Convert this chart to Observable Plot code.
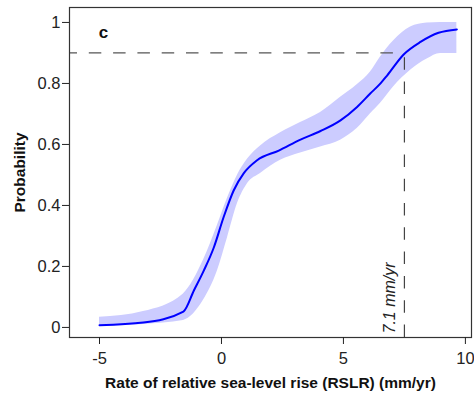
<!DOCTYPE html>
<html>
<head>
<meta charset="utf-8">
<script src="https://cdn.jsdelivr.net/npm/d3@7"></script>
<script src="https://cdn.jsdelivr.net/npm/@observablehq/plot@0.6"></script>
<style>
  html, body { margin: 0; padding: 0; background: #fff; }
  #chart { width: 474px; height: 393px; }
</style>
</head>
<body>
<div id="chart"></div>
<script>
// ---- data ----
const lineX = [-5, -3.2, -1.56, -1.13, -0.72, -0.31, 0.09, 0.5, 0.91, 1.46, 2.35, 3.24, 4.06, 4.88, 5.56, 6.1, 6.52, 6.79, 7.47, 8.16, 8.9, 9.65];
const lineP = [0.007, 0.016, 0.052, 0.121, 0.187, 0.263, 0.362, 0.449, 0.505, 0.548, 0.580, 0.616, 0.644, 0.679, 0.723, 0.767, 0.800, 0.826, 0.895, 0.936, 0.966, 0.977];

const bandX     = [-5, -3.2, -1.56, -0.74, -0.16, 0.25, 0.66, 1.07, 1.6, 2.42, 3.24, 4.06, 4.88, 5.56, 6.1, 6.52, 7.06, 7.75, 8.43, 8.98, 9.65];
const bandUpper = [0.033, 0.052, 0.11, 0.22, 0.336, 0.424, 0.50, 0.552, 0.595, 0.638, 0.672, 0.705, 0.755, 0.796, 0.837, 0.887, 0.94, 0.985, 0.998, 1.0, 1.0];
const bandLower = [0.003, 0.01, 0.023, 0.089, 0.187, 0.295, 0.407, 0.472, 0.505, 0.548, 0.572, 0.592, 0.614, 0.652, 0.70, 0.735, 0.789, 0.843, 0.88, 0.898, 0.898];

const xTicks = [-5, 0, 5, 10];
const yTicks = [0, 0.2, 0.4, 0.6, 0.8, 1];
const xDomain = [-6.23, 10.25];
const yDomain = [-0.033, 1.049];

const thresholdP = 0.9;
const thresholdX = 7.5;
const thresholdLabel = "7.1 mm/yr";
const panelLabel = "c";
const xTitle = "Rate of relative sea-level rise (RSLR) (mm/yr)";
const yTitle = "Probability";

// ---- build tables ----
const lineData = lineX.map((x, i) => ({x, p: lineP[i]}));
const bandData = bandX.map((x, i) => ({x, lo: bandLower[i], hi: bandUpper[i]}));

const font = "'Liberation Sans', Arial, sans-serif";

const chart = Plot.plot({
  width: 474,
  height: 393,
  marginLeft: 69,
  marginRight: 3,
  marginTop: 7,
  marginBottom: 56,
  style: {fontFamily: font, background: "#fff", color: "#222"},
  x: {domain: xDomain},
  y: {domain: yDomain},
  marks: [
    Plot.areaY(bandData, {x: "x", y1: "lo", y2: "hi", fill: "#ccccff", curve: "monotone-x"}),
    Plot.line(lineData, {x: "x", y: "p", stroke: "#0000ff", strokeWidth: 2, curve: "monotone-x"}),
    Plot.ruleY([thresholdP], {x1: xDomain[0], x2: thresholdX, stroke: "#555", strokeWidth: 1.2, strokeDasharray: "12.5,11.8", strokeDashoffset: 4.5}),
    Plot.ruleX([thresholdX], {y1: yDomain[0], y2: thresholdP, stroke: "#444", strokeWidth: 1.2, strokeDasharray: "12.5,11.8"}),
    Plot.text([thresholdLabel], {x: thresholdX, frameAnchor: "bottom", rotate: -90, textAnchor: "start", lineAnchor: "bottom", dx: -9, dy: -4, fontStyle: "italic", fontSize: 16, fill: "#222"}),
    Plot.text([panelLabel], {frameAnchor: "top-left", textAnchor: "middle", lineAnchor: "bottom", dx: 34, dy: 30, fontWeight: "bold", fontSize: 17, fill: "#111"}),
    Plot.frame({stroke: "#333", strokeWidth: 1.2}),
    Plot.axisX({ticks: xTicks, tickFormat: d => String(d), tickSize: 7, tickPadding: 8, fontSize: 16.5, label: null, stroke: "#222", fill: "#222"}),
    Plot.axisY({ticks: yTicks, tickFormat: d => String(d), tickSize: 7, tickPadding: 2, fontSize: 16.5, label: null, stroke: "#222", fill: "#222"}),
    Plot.text([xTitle], {frameAnchor: "bottom", lineAnchor: "bottom", textAnchor: "middle", dy: 50, fontWeight: "bold", fontSize: 15.5, fill: "#111"}),
    Plot.text([yTitle], {frameAnchor: "left", rotate: -90, lineAnchor: "bottom", textAnchor: "middle", dx: -45, fontWeight: "bold", fontSize: 15.5, fill: "#111"})
  ]
});
document.getElementById("chart").appendChild(chart);
</script>
</body>
</html>
